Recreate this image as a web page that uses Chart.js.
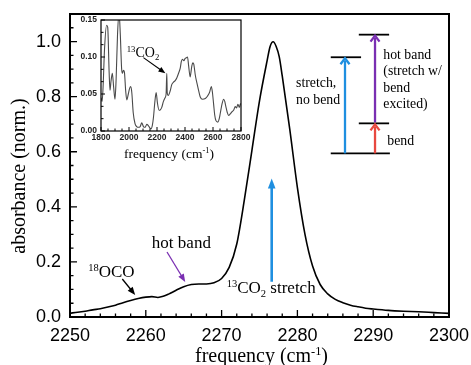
<!DOCTYPE html>
<html>
<head>
<meta charset="utf-8">
<script src="https://cdn.jsdelivr.net/npm/chart.js@4.4.1/dist/chart.umd.min.js"></script>
<style>
  html, body { margin: 0; padding: 0; background: #fff; }
  #wrap { position: relative; width: 471px; height: 365px; }
  #main { position: absolute; left: 0; top: 0; }
  #inset { position: absolute; left: 60px; top: 12px; }
</style>
</head>
<body>
<div id="wrap">
  <canvas id="main" width="471" height="365"></canvas>
  <canvas id="inset" width="200" height="160"></canvas>
</div>
<script>
// ---- main spectrum (frequency in cm^-1, normalized absorbance) ----
const freq = [2250, 2251, 2252, 2253, 2254, 2255, 2256, 2257, 2258, 2259, 2260, 2260.8, 2261.6, 2262.3, 2263, 2264, 2265, 2266, 2267, 2268, 2269, 2270, 2271, 2272, 2273, 2274, 2275, 2276, 2276.4, 2276.8, 2277.2, 2277.6, 2278, 2279, 2280, 2281, 2282, 2283, 2284, 2285, 2286, 2287, 2288, 2289, 2290, 2292, 2294, 2296, 2298, 2300];
const absorbance = [0.014, 0.017, 0.021, 0.026, 0.030, 0.036, 0.043, 0.052, 0.060, 0.067, 0.072, 0.074, 0.071, 0.075, 0.083, 0.097, 0.110, 0.118, 0.120, 0.120, 0.124, 0.140, 0.180, 0.265, 0.425, 0.605, 0.785, 0.930, 0.982, 0.999, 0.982, 0.945, 0.875, 0.680, 0.470, 0.300, 0.185, 0.118, 0.084, 0.064, 0.052, 0.043, 0.037, 0.032, 0.029, 0.024, 0.021, 0.019, 0.016, 0.013];
const xTicks = [2250, 2260, 2270, 2280, 2290, 2300];
const yTicks = [0.0, 0.2, 0.4, 0.6, 0.8, 1.0];

// ---- inset: broad spectrum ----
const insetFreq = [1800, 1808, 1815, 1825, 1840, 1848, 1858, 1864, 1872, 1881, 1890, 1900, 1908, 1918, 1929, 1938, 1947, 1953, 1960, 1967, 1976, 1984, 1995, 2005, 2012, 2020, 2030, 2043, 2055, 2067, 2080, 2091, 2103, 2115, 2127, 2139, 2150, 2158, 2167, 2175, 2185, 2194, 2203, 2215, 2225, 2234, 2246, 2258, 2265, 2270, 2273, 2280, 2294, 2306, 2318, 2330, 2342, 2354, 2366, 2374, 2382, 2392, 2401, 2410, 2418, 2426, 2437, 2443, 2449, 2456, 2463, 2474, 2485, 2497, 2509, 2525, 2545, 2560, 2575, 2588, 2596, 2604, 2612, 2621, 2635, 2645, 2652, 2665, 2676, 2684, 2692, 2702, 2711, 2723, 2735, 2747, 2759, 2768, 2778, 2788, 2795, 2800];
const insetAbs = [0.045, 0.040, 0.060, 0.110, 0.143, 0.140, 0.080, 0.055, 0.068, 0.078, 0.060, 0.043, 0.070, 0.130, 0.160, 0.130, 0.085, 0.078, 0.082, 0.080, 0.055, 0.042, 0.050, 0.058, 0.060, 0.052, 0.025, 0.010, 0.006, 0.005, 0.006, 0.011, 0.006, 0.005, 0.009, 0.007, 0.004, 0.003, 0.008, 0.019, 0.040, 0.052, 0.038, 0.028, 0.029, 0.032, 0.040, 0.045, 0.050, 0.078, 0.052, 0.048, 0.054, 0.063, 0.066, 0.068, 0.072, 0.078, 0.085, 0.094, 0.097, 0.095, 0.098, 0.099, 0.100, 0.088, 0.073, 0.080, 0.088, 0.092, 0.090, 0.075, 0.065, 0.055, 0.046, 0.043, 0.044, 0.047, 0.052, 0.060, 0.052, 0.037, 0.022, 0.014, 0.012, 0.017, 0.024, 0.037, 0.043, 0.040, 0.033, 0.025, 0.021, 0.023, 0.026, 0.028, 0.033, 0.031, 0.036, 0.032, 0.036, 0.037];
const insetXTicks = [1800, 2000, 2200, 2400, 2600, 2800];
const insetYTicks = [0.00, 0.05, 0.10, 0.15];

const SERIF = '"Liberation Serif", "Times New Roman", serif';
const SANS = '"Liberation Sans", Arial, sans-serif';
const BLUE = '#1f8fe0', RED = '#e8483f', PURPLE = '#7a2fb2';

function rich(ctx, x, y, parts, size, color, align) {
  const fontFor = p => (p.sup || p.sub) ? (size * 0.62) + 'px ' + SERIF : size + 'px ' + SERIF;
  let total = 0;
  for (const p of parts) { ctx.font = fontFor(p); total += ctx.measureText(p.t).width; }
  let cx = align === 'center' ? x - total / 2 : x;
  ctx.fillStyle = color || '#000';
  ctx.textAlign = 'left';
  ctx.textBaseline = 'alphabetic';
  for (const p of parts) {
    ctx.font = fontFor(p);
    const dy = p.sup ? -size * 0.36 : (p.sub ? size * 0.22 : 0);
    ctx.fillText(p.t, cx, y + dy);
    cx += ctx.measureText(p.t).width;
  }
}

function arrow(ctx, x1, y1, x2, y2, o) {
  const ang = Math.atan2(y2 - y1, x2 - x1);
  const head = o.head || 8, hw = o.hw || 3;
  const bx = x2 - head * Math.cos(ang), by = y2 - head * Math.sin(ang);
  const nx = -Math.sin(ang), ny = Math.cos(ang);
  ctx.save();
  ctx.strokeStyle = o.color; ctx.fillStyle = o.color; ctx.lineWidth = o.width;
  ctx.lineCap = 'butt'; ctx.lineJoin = 'miter';
  ctx.beginPath();
  ctx.moveTo(x1, y1);
  if (o.open) ctx.lineTo(x2 - Math.cos(ang) * o.width, y2 - Math.sin(ang) * o.width);
  else ctx.lineTo(bx + Math.cos(ang), by + Math.sin(ang));
  ctx.stroke();
  ctx.beginPath();
  if (o.open) {
    ctx.moveTo(bx + nx * hw, by + ny * hw);
    ctx.lineTo(x2, y2);
    ctx.lineTo(bx - nx * hw, by - ny * hw);
    ctx.stroke();
  } else {
    ctx.moveTo(x2, y2);
    ctx.lineTo(bx + nx * hw, by + ny * hw);
    ctx.lineTo(bx - nx * hw, by - ny * hw);
    ctx.closePath();
    ctx.fill();
  }
  ctx.restore();
}

function ticksAndFrame(cfg) {
  return {
    id: 'ticksAndFrame',
    afterDatasetsDraw(chart) {
      const { ctx, chartArea: a, scales: { x, y } } = chart;
      ctx.save();
      ctx.strokeStyle = '#000';
      ctx.lineWidth = cfg.tickWidth;
      ctx.beginPath();
      const nX = Math.round((x.max - x.min) / cfg.xMinor);
      for (let i = 0; i <= nX; i++) {
        const v = x.min + i * cfg.xMinor;
        const major = (i % cfg.xPer) === 0;
        const px = x.getPixelForValue(v);
        ctx.moveTo(px, a.bottom);
        ctx.lineTo(px, a.bottom - (major ? cfg.major : cfg.minor));
      }
      const nY = Math.round((y.max - y.min) / cfg.yMinor);
      for (let i = 0; i <= nY; i++) {
        const v = y.min + i * cfg.yMinor;
        const major = (i % cfg.yPer) === 0;
        const py = y.getPixelForValue(v);
        ctx.moveTo(a.left, py);
        ctx.lineTo(a.left + (major ? cfg.major : cfg.minor), py);
      }
      ctx.stroke();
      ctx.lineWidth = cfg.frameWidth;
      ctx.strokeRect(a.left, a.top, a.right - a.left, a.bottom - a.top);
      ctx.restore();
    }
  };
}

const whiteArea = {
  id: 'whiteArea',
  beforeDatasetsDraw(chart) {
    const { ctx, chartArea: a } = chart;
    ctx.save(); ctx.fillStyle = '#fff';
    ctx.fillRect(a.left, a.top, a.right - a.left, a.bottom - a.top);
    ctx.restore();
  }
};

const mainAnnotations = {
  id: 'mainAnnotations',
  afterDraw(chart) {
    const { ctx, chartArea: a, scales: { x, y } } = chart;
    const X = v => x.getPixelForValue(v), Y = v => y.getPixelForValue(v);
    ctx.save();
    // axis titles
    rich(ctx, (a.left + a.right) / 2 + 2, 362, [{ t: 'frequency (cm' }, { t: '-1', sup: true }, { t: ')' }], 20, '#000', 'center');
    ctx.save();
    ctx.translate(24.5, 176);
    ctx.rotate(-Math.PI / 2);
    ctx.font = '20px ' + SERIF; ctx.fillStyle = '#000';
    ctx.textAlign = 'center'; ctx.textBaseline = 'alphabetic';
    ctx.fillText('absorbance (norm.)', 0, 0);
    ctx.restore();

    // band labels
    rich(ctx, X(2252.4), Y(0.146), [{ t: '18', sup: true }, { t: 'OCO' }], 17, '#000');
    arrow(ctx, X(2256.9), Y(0.138), X(2258.6), Y(0.080), { color: '#000', width: 1.3, head: 8, hw: 3.2 });
    rich(ctx, X(2260.8), Y(0.249), [{ t: 'hot band' }], 17, '#000');
    arrow(ctx, X(2262.8), Y(0.236), X(2265.2), Y(0.127), { color: PURPLE, width: 1.3, head: 8, hw: 3.2 });
    rich(ctx, X(2270.67), Y(0.086), [{ t: '13', sup: true }, { t: 'CO' }, { t: '2', sub: true }, { t: ' stretch' }], 17, '#000');
    arrow(ctx, X(2276.61), Y(0.128), X(2276.61), Y(0.503), { color: BLUE, width: 2.6, head: 10, hw: 3.8 });

    // energy level diagram
    ctx.strokeStyle = '#000'; ctx.lineWidth = 1.8;
    const level = (x1, x2, yv) => { ctx.beginPath(); ctx.moveTo(X(x1), Y(yv)); ctx.lineTo(X(x2), Y(yv)); ctx.stroke(); };
    level(2284.4, 2292.2, 0.594);
    level(2288.1, 2292.1, 0.703);
    level(2284.4, 2288.4, 0.943);
    level(2288.1, 2292.1, 1.025);
    arrow(ctx, X(2286.28), Y(0.594), X(2286.28), Y(0.943) + 1, { color: BLUE, width: 2.3, head: 6, hw: 4.5, open: true });
    arrow(ctx, X(2290.24), Y(0.594), X(2290.24), Y(0.703) + 1, { color: RED, width: 2.3, head: 6, hw: 4.5, open: true });
    arrow(ctx, X(2290.24), Y(0.703) - 1, X(2290.24), Y(1.025) + 1, { color: PURPLE, width: 2.3, head: 6, hw: 4.5, open: true });
    const fs = 13.8;
    rich(ctx, X(2279.82), Y(0.834), [{ t: 'stretch,' }], fs, '#000');
    rich(ctx, X(2279.82), Y(0.773), [{ t: 'no bend' }], fs, '#000');
    rich(ctx, X(2291.33), Y(0.936), [{ t: 'hot band' }], fs, '#000');
    rich(ctx, X(2291.33), Y(0.878), [{ t: '(stretch w/' }], fs, '#000');
    rich(ctx, X(2291.33), Y(0.818), [{ t: 'bend' }], fs, '#000');
    rich(ctx, X(2291.33), Y(0.760), [{ t: 'excited)' }], fs, '#000');
    rich(ctx, X(2291.86), Y(0.624), [{ t: 'bend' }], fs, '#000');
    ctx.restore();
  }
};

new Chart(document.getElementById('main'), {
  type: 'line',
  data: {
    datasets: [{
      data: freq.map((f, i) => ({ x: f, y: absorbance[i] })),
      borderColor: '#000', borderWidth: 1.6, pointRadius: 0,
      cubicInterpolationMode: 'monotone', fill: false
    }]
  },
  options: {
    responsive: false, animation: false, devicePixelRatio: 1,
    layout: { padding: { top: 14, right: 22, left: 0, bottom: 0 } },
    plugins: { legend: { display: false }, tooltip: { enabled: false } },
    scales: {
      x: {
        type: 'linear', min: 2250, max: 2300,
        afterBuildTicks: s => { s.ticks = xTicks.map(v => ({ value: v })); },
        afterFit: s => { s.height = 48; s.paddingLeft = 0; s.paddingRight = 0; },
        grid: { display: false, drawTicks: false }, border: { display: false },
        ticks: { padding: 8, color: '#000', font: { family: SANS, size: 18 }, maxRotation: 0, autoSkip: false, callback: v => String(v) }
      },
      y: {
        type: 'linear', min: 0, max: 1.1,
        afterBuildTicks: s => { s.ticks = yTicks.map(v => ({ value: v })); },
        afterFit: s => { s.width = 70; s.paddingTop = 0; s.paddingBottom = 0; },
        grid: { display: false, drawTicks: false }, border: { display: false },
        ticks: { padding: 9, color: '#000', font: { family: SANS, size: 18 }, callback: v => Number(v).toFixed(1) }
      }
    }
  },
  plugins: [ticksAndFrame({ xMinor: 2, xPer: 5, yMinor: 0.05, yPer: 4, major: 7, minor: 3.5, tickWidth: 1.3, frameWidth: 2 }), mainAnnotations]
});

const insetAnnotations = {
  id: 'insetAnnotations',
  afterDraw(chart) {
    const { ctx, chartArea: a, scales: { x, y } } = chart;
    const X = v => x.getPixelForValue(v), Y = v => y.getPixelForValue(v);
    ctx.save();
    rich(ctx, X(1984), Y(0.1003), [{ t: '13', sup: true }, { t: 'CO' }, { t: '2', sub: true }], 14, '#000');
    arrow(ctx, X(2103), Y(0.0992), X(2260), Y(0.078), { color: '#000', width: 1.1, head: 7, hw: 2.8 });
    rich(ctx, (a.left + a.right) / 2 - 2, 145.7, [{ t: 'frequency (cm' }, { t: '-1', sup: true }, { t: ')' }], 13.5, '#000', 'center');
    ctx.restore();
  }
};

new Chart(document.getElementById('inset'), {
  type: 'line',
  data: {
    datasets: [{
      data: insetFreq.map((f, i) => ({ x: f, y: insetAbs[i] })),
      borderColor: '#4a4a4a', borderWidth: 1.1, pointRadius: 0,
      cubicInterpolationMode: 'monotone', fill: false
    }]
  },
  options: {
    responsive: false, animation: false, devicePixelRatio: 1,
    layout: { padding: { top: 8, right: 19, left: 0, bottom: 0 } },
    plugins: { legend: { display: false }, tooltip: { enabled: false } },
    scales: {
      x: {
        type: 'linear', min: 1800, max: 2800,
        afterBuildTicks: s => { s.ticks = insetXTicks.map(v => ({ value: v })); },
        afterFit: s => { s.height = 41; s.paddingLeft = 0; s.paddingRight = 0; },
        grid: { display: false, drawTicks: false }, border: { display: false },
        ticks: { padding: 2, color: '#222', font: { family: SANS, size: 8.5, weight: 'bold' }, maxRotation: 0, autoSkip: false, callback: v => String(v) }
      },
      y: {
        type: 'linear', min: 0, max: 0.15,
        afterBuildTicks: s => { s.ticks = insetYTicks.map(v => ({ value: v })); },
        afterFit: s => { s.width = 41; s.paddingTop = 0; s.paddingBottom = 0; },
        grid: { display: false, drawTicks: false }, border: { display: false },
        ticks: { padding: 4, color: '#222', font: { family: SANS, size: 8.5, weight: 'bold' }, callback: v => Number(v).toFixed(2) }
      }
    }
  },
  plugins: [whiteArea, ticksAndFrame({ xMinor: 50, xPer: 4, yMinor: 0.05 / 3, yPer: 3, major: 4, minor: 2.5, tickWidth: 1, frameWidth: 1.2 }), insetAnnotations]
});
</script>
</body>
</html>
